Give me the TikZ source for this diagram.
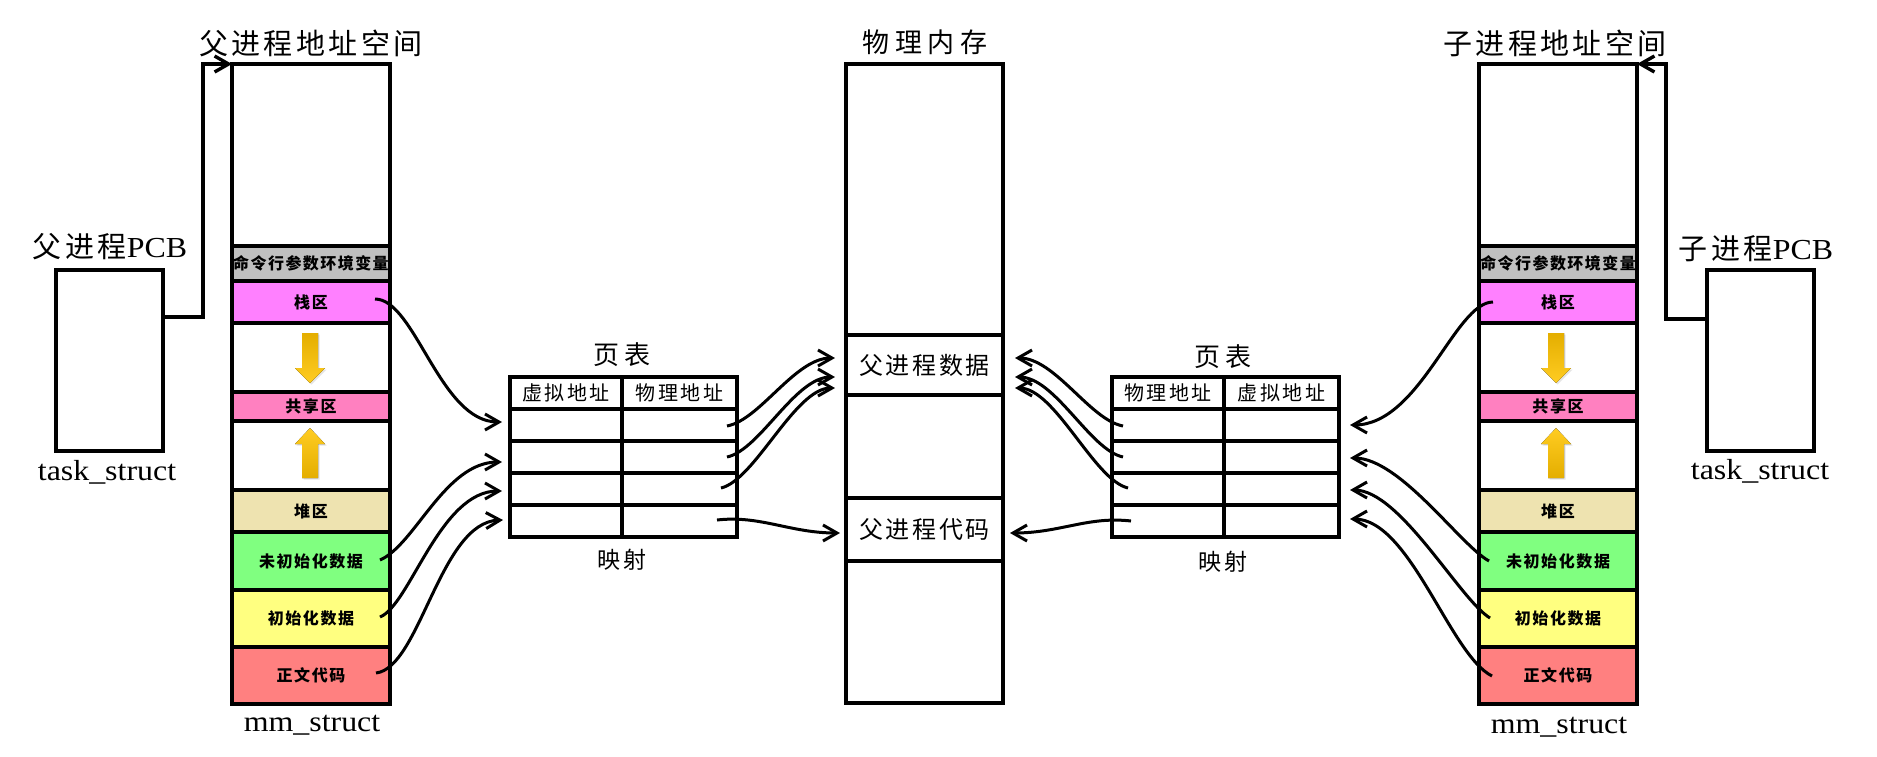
\documentclass[tikz,border=0pt]{standalone}
\usepackage{fontspec}
\setmainfont{Liberation Serif}[FakeStretch=1.1]
\newfontfamily\cjk{Noto Sans CJK SC}
\usetikzlibrary{arrows.meta,calc,shadows}
\definecolor{cgray}{RGB}{192,192,192}
\definecolor{cstack}{RGB}{255,128,255}
\definecolor{cshared}{RGB}{255,128,192}
\definecolor{cheap}{RGB}{238,227,176}
\definecolor{cgreen}{RGB}{128,255,128}
\definecolor{cyellow}{RGB}{255,255,128}
\definecolor{cred}{RGB}{255,128,128}
\definecolor{adark}{RGB}{228,174,0}
\definecolor{alight}{RGB}{255,204,34}
\newcommand\ct[3]{{\cjk\fontsize{#1}{#1}\selectfont\addfontfeatures{LetterSpace=#2}#3}}
\newcommand\ctb[3]{{\cjk\bfseries\fontsize{#1}{#1}\selectfont\addfontfeatures{LetterSpace=#2}#3}}
\begin{document}
\begin{tikzpicture}[x=0.5pt,y=-0.5pt,
  frame/.style={draw, line width=1.7pt, inner sep=0pt, outer sep=0pt, minimum width=79pt},
  cell/.style={draw, line width=1.7pt, inner sep=0pt, outer sep=0pt, minimum height=16pt},
  link/.style={line width=1.5pt, -{Straight Barb[length=7pt,width=8pt]}},
  pcbline/.style={line width=1.7pt, -{Straight Barb[length=7pt,width=8pt]}},
  lat/.style={font=\fontsize{14.5pt}{14.5pt}\selectfont, inner sep=0pt},
  txt/.style={inner sep=0pt},
  ydown/.pic={\fill[top color=adark, bottom color=alight, drop shadow={opacity=0.2,shadow xshift=0.8pt,shadow yshift=-0.8pt}]
     (-8,0) -- (8,0) -- (8,35) -- (15,35) -- (0,50) -- (-15,35) -- (-8,35) -- cycle;},
  yup/.pic={\fill[top color=alight, bottom color=adark, drop shadow={opacity=0.2,shadow xshift=0.8pt,shadow yshift=-0.8pt}]
     (0,0) -- (15,16) -- (8,16) -- (8,50) -- (-8,50) -- (-8,16) -- (-15,16) -- cycle;}
]
\fill[white] (0,0) rectangle (1877,756);
\useasboundingbox (0,0) rectangle (1877,756);

% address spaces
\foreach \s/\x in {l/311, r/1558} {
  \node[frame, minimum height=320pt] (\s-space) at (\x,384) {};
  \node[frame, fill=cgray, minimum height=17.5pt] (\s-env) at (\x,263.5) {\ctb{8pt}{9}{命令行参数环境变量}};
  \node[frame, fill=cstack, minimum height=21pt] (\s-stack) at (\x,302) {\ctb{8pt}{10}{栈区}};
  \node[frame, fill=cshared, minimum height=14.5pt] (\s-shared) at (\x,406.5) {\ctb{8pt}{10}{共享区}};
  \node[frame, fill=cheap, minimum height=21pt] (\s-heap) at (\x,511) {\ctb{8pt}{10}{堆区}};
  \node[frame, fill=cgreen, minimum height=29pt] (\s-uninit) at (\x,561) {\ctb{8pt}{10}{未初始化数据}};
  \node[frame, fill=cyellow, minimum height=28.5pt] (\s-init) at (\x,618.5) {\ctb{8pt}{10}{初始化数据}};
  \node[frame, fill=cred, minimum height=28.5pt] (\s-code) at (\x,675.5) {\ctb{8pt}{10}{正文代码}};
}
\pic at (310,333) {ydown};
\pic at (310,428) {yup};
\pic at (1556,333) {ydown};
\pic at (1556,428) {yup};

\node[txt] (ltitle) at (311,43) {\ct{14.5pt}{12}{父进程地址空间}};
\node[txt] (rtitle) at (1555,43) {\ct{14.5pt}{12}{子进程地址空间}};
\node[lat] (lmm) at (312,725) {mm\_struct};
\node[lat] (rmm) at (1559,727) {mm\_struct};

% PCBs
\node[frame, minimum width=53.5pt, minimum height=90.5pt] (lpcb) at (109.5,360.5) {};
\node[frame, minimum width=53.5pt, minimum height=90.5pt] (rpcb) at (1760.5,360.5) {};
\node[lat] (lpcbt) at (110,247) {\ct{14.5pt}{12}{父进程}PCB};
\node[lat] (rpcbt) at (1756,249) {\ct{14.5pt}{12}{子进程}PCB};
\node[lat] (ltask) at (107,472) {task\_struct};
\node[lat] (rtask) at (1760,471) {task\_struct};
\draw[pcbline] ([yshift=21.75pt]lpcb.east) -- ++(40,0) |- (l-space.north west);
\draw[pcbline] ([yshift=20.75pt]rpcb.west) -- ++(-41,0) |- (r-space.north east);

% physical memory
\node[frame, minimum width=78.5pt, minimum height=319.5pt] (phys) at (924.5,383.5) {};
\node[frame, minimum width=78.5pt, minimum height=30pt] (pdata) at (924.5,365) {\ct{12pt}{11}{父进程数据}};
\node[frame, minimum width=78.5pt, minimum height=31.5pt] (pcode) at (924.5,529.5) {\ct{12pt}{11}{父进程代码}};
\node[txt] (ptitle) at (925,42) {\ct{13.5pt}{22}{物理内存}};

% page tables
\foreach \i/\y in {0/393,1/425,2/457,3/489,4/521} {
  \node[cell, minimum width=56pt] (lv\i) at (566,\y) {};
  \node[cell, minimum width=57.5pt] (lp\i) at (679.5,\y) {};
  \node[cell, minimum width=56pt] (rp\i) at (1168,\y) {};
  \node[cell, minimum width=57.5pt] (rv\i) at (1281.5,\y) {};
}
\node[txt] at (lv0) {\ct{10pt}{13}{虚拟地址}};
\node[txt] at (lp0) {\ct{10pt}{13}{物理地址}};
\node[txt] at (rp0) {\ct{10pt}{13}{物理地址}};
\node[txt] at (rv0) {\ct{10pt}{13}{虚拟地址}};
\node[txt] (lpt) at (622,355) {\ct{13pt}{23}{页表}};
\node[txt] (rpt) at (1223,357) {\ct{13pt}{23}{页表}};
\node[txt] (lmap) at (622,560) {\ct{11.5pt}{9}{映射}};
\node[txt] (rmap) at (1223,562) {\ct{11.5pt}{9}{映射}};

% left address space -> left page table
\draw[link] ($(l-stack.east)+(-15,-3)$) .. controls +(40,0) and +(-62,0) .. ($(lv1.west)+(-8,-3)$);
\draw[link] ($(l-uninit.east)+(-10,-1)$) .. controls +(35,-15) and +(-57,0) .. ($(lv2.west)+(-8,5)$);
\draw[link] ($(l-init.east)+(-10,-1.5)$) .. controls +(30,-12) and +(-62,0) .. ($(lv3.west)+(-8,2)$);
\draw[link] ($(l-code.east)+(-14,-2.5)$) .. controls +(44,-5) and +(-63,2) .. ($(lv4.west)+(-7,-1)$);

% left page table -> physical memory
\draw[link] ($(lp1.east)+(-10,1)$) .. controls +(33,-6) and +(-40,0) .. ($(pdata.west)+(-11,-7)$);
\draw[link] ($(lp2.east)+(-10,0)$) .. controls +(33,-7) and +(-40,0) .. ($(pdata.west)+(-11,12)$);
\draw[link] ($(lp3.east)+(-16,-1)$) .. controls +(34,-8) and +(-40,0) .. ($(pdata.west)+(-11,23)$);
\draw[link] ($(lp4.east)+(-20,-1)$) .. controls +(43,-5) and +(-50,0) .. ($(pcode.west)+(-6,3.5)$);

% right page table -> physical memory
\draw[link] ($(rp1.west)+(11,1)$) .. controls +(-33,-6) and +(40,0) .. ($(pdata.east)+(12,-7)$);
\draw[link] ($(rp2.west)+(11,0)$) .. controls +(-33,-7) and +(40,0) .. ($(pdata.east)+(12,12)$);
\draw[link] ($(rp3.west)+(16,-1)$) .. controls +(-34,-8) and +(40,0) .. ($(pdata.east)+(12,23)$);
\draw[link] ($(rp4.west)+(19,0)$) .. controls +(-43,-5) and +(50,0) .. ($(pcode.east)+(7,3.5)$);

% right address space -> right page table
\draw[link] ($(r-stack.west)+(14,0)$) .. controls +(-38,0) and +(70,0) .. ($(rv1.east)+(11,0)$);
\draw[link] ($(r-uninit.west)+(10,0)$) .. controls +(-29,-16) and +(50,0) .. ($(rv2.east)+(11,1)$);
\draw[link] ($(r-init.west)+(11,-0.5)$) .. controls +(-30,-18) and +(50,0) .. ($(rv3.east)+(11,1)$);
\draw[link] ($(r-code.west)+(13,0.5)$) .. controls +(-42,-21) and +(60,0) .. ($(rv4.east)+(11,-2)$);
\end{tikzpicture}
\end{document}
